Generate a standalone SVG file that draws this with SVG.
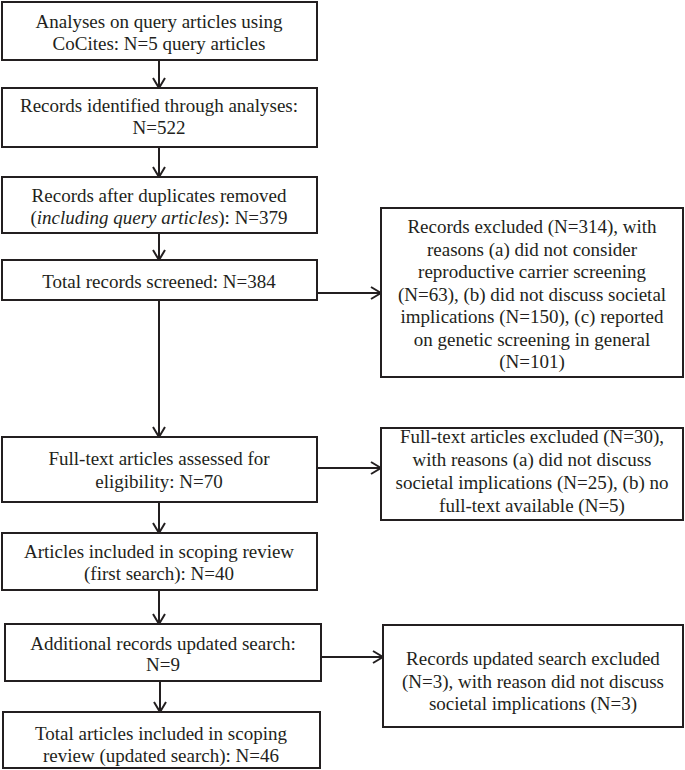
<svg xmlns="http://www.w3.org/2000/svg" width="685" height="770" viewBox="0 0 685 770">
<defs>
<marker id="ah" markerWidth="12" markerHeight="14" refX="11" refY="7" orient="auto" markerUnits="userSpaceOnUse">
<path d="M1,1 L11,7 L1,13" fill="none" stroke="#231f20" stroke-width="2"/>
</marker>
</defs>
<rect width="685" height="770" fill="#fff"/>
<g id="connectors" fill="none" stroke="#231f20" stroke-width="2">
<line x1="159" y1="61" x2="159" y2="88" marker-end="url(#ah)"/>
<line x1="159" y1="147" x2="159" y2="177" marker-end="url(#ah)"/>
<line x1="159" y1="233" x2="159" y2="260" marker-end="url(#ah)"/>
<line x1="317" y1="293" x2="381" y2="293" marker-end="url(#ah)"/>
<line x1="159" y1="300" x2="159" y2="437" marker-end="url(#ah)"/>
<line x1="317" y1="468" x2="381" y2="468" marker-end="url(#ah)"/>
<line x1="159" y1="502" x2="159" y2="533" marker-end="url(#ah)"/>
<line x1="159" y1="590" x2="159" y2="624" marker-end="url(#ah)"/>
<line x1="321" y1="657" x2="383" y2="657" marker-end="url(#ah)"/>
<line x1="160" y1="681" x2="160" y2="712" marker-end="url(#ah)"/>
</g>
<g id="n1"><rect x="2" y="2" width="315" height="58" fill="#fff" stroke="#231f20" stroke-width="2"/>
<text x="159" y="28" font-family="'Liberation Serif'" style="font-family:'Liberation Serif'" font-size="19" fill="#231f20" text-anchor="middle">Analyses on query articles using</text>
<text x="159" y="50" font-family="'Liberation Serif'" style="font-family:'Liberation Serif'" font-size="19" fill="#231f20" text-anchor="middle">CoCites: N=5 query articles</text></g>
<g id="n2"><rect x="2" y="88" width="315" height="59" fill="#fff" stroke="#231f20" stroke-width="2"/>
<text x="159" y="112" font-family="'Liberation Serif'" style="font-family:'Liberation Serif'" font-size="19" fill="#231f20" text-anchor="middle">Records identified through analyses:</text>
<text x="159" y="134" font-family="'Liberation Serif'" style="font-family:'Liberation Serif'" font-size="19" fill="#231f20" text-anchor="middle">N=522</text></g>
<g id="n3"><rect x="2" y="177" width="315" height="56" fill="#fff" stroke="#231f20" stroke-width="2"/>
<text x="159" y="202" font-family="'Liberation Serif'" style="font-family:'Liberation Serif'" font-size="19" fill="#231f20" text-anchor="middle">Records after duplicates removed</text>
<text x="159" y="224" font-family="'Liberation Serif'" style="font-family:'Liberation Serif'" font-size="19" fill="#231f20" text-anchor="middle">(<tspan font-style="italic" style="font-style:italic">including query articles</tspan>): N=379</text></g>
<g id="n4"><rect x="2" y="260" width="315" height="40" fill="#fff" stroke="#231f20" stroke-width="2"/>
<text x="159" y="288" font-family="'Liberation Serif'" style="font-family:'Liberation Serif'" font-size="19" fill="#231f20" text-anchor="middle">Total records screened: N=384</text></g>
<g id="r1"><rect x="381" y="208" width="302" height="169" fill="#fff" stroke="#231f20" stroke-width="2"/>
<text x="532" y="233" font-family="'Liberation Serif'" style="font-family:'Liberation Serif'" font-size="19" fill="#231f20" text-anchor="middle">Records excluded (N=314), with</text>
<text x="532" y="255.5" font-family="'Liberation Serif'" style="font-family:'Liberation Serif'" font-size="19" fill="#231f20" text-anchor="middle">reasons (a) did not consider</text>
<text x="532" y="278" font-family="'Liberation Serif'" style="font-family:'Liberation Serif'" font-size="19" fill="#231f20" text-anchor="middle">reproductive carrier screening</text>
<text x="532" y="300.5" font-family="'Liberation Serif'" style="font-family:'Liberation Serif'" font-size="19" fill="#231f20" text-anchor="middle">(N=63), (b) did not discuss societal</text>
<text x="532" y="323" font-family="'Liberation Serif'" style="font-family:'Liberation Serif'" font-size="19" fill="#231f20" text-anchor="middle">implications (N=150), (c) reported</text>
<text x="532" y="345.5" font-family="'Liberation Serif'" style="font-family:'Liberation Serif'" font-size="19" fill="#231f20" text-anchor="middle">on genetic screening in general</text>
<text x="532" y="368" font-family="'Liberation Serif'" style="font-family:'Liberation Serif'" font-size="19" fill="#231f20" text-anchor="middle">(N=101)</text></g>
<g id="n5"><rect x="2" y="437" width="315" height="65" fill="#fff" stroke="#231f20" stroke-width="2"/>
<text x="159" y="465" font-family="'Liberation Serif'" style="font-family:'Liberation Serif'" font-size="19" fill="#231f20" text-anchor="middle">Full-text articles assessed for</text>
<text x="159" y="488" font-family="'Liberation Serif'" style="font-family:'Liberation Serif'" font-size="19" fill="#231f20" text-anchor="middle">eligibility: N=70</text></g>
<g id="r2"><rect x="381" y="428" width="302" height="92" fill="#fff" stroke="#231f20" stroke-width="2"/>
<text x="532" y="443" font-family="'Liberation Serif'" style="font-family:'Liberation Serif'" font-size="19" fill="#231f20" text-anchor="middle">Full-text articles excluded (N=30),</text>
<text x="532" y="466" font-family="'Liberation Serif'" style="font-family:'Liberation Serif'" font-size="19" fill="#231f20" text-anchor="middle">with reasons (a) did not discuss</text>
<text x="532" y="489" font-family="'Liberation Serif'" style="font-family:'Liberation Serif'" font-size="19" fill="#231f20" text-anchor="middle">societal implications (N=25), (b) no</text>
<text x="532" y="512" font-family="'Liberation Serif'" style="font-family:'Liberation Serif'" font-size="19" fill="#231f20" text-anchor="middle">full-text available (N=5)</text></g>
<g id="n6"><rect x="2" y="533" width="315" height="57" fill="#fff" stroke="#231f20" stroke-width="2"/>
<text x="159" y="558" font-family="'Liberation Serif'" style="font-family:'Liberation Serif'" font-size="19" fill="#231f20" text-anchor="middle">Articles included in scoping review</text>
<text x="159" y="580" font-family="'Liberation Serif'" style="font-family:'Liberation Serif'" font-size="19" fill="#231f20" text-anchor="middle">(first search): N=40</text></g>
<g id="n7"><rect x="5" y="624" width="316" height="57" fill="#fff" stroke="#231f20" stroke-width="2"/>
<text x="163" y="650" font-family="'Liberation Serif'" style="font-family:'Liberation Serif'" font-size="19" fill="#231f20" text-anchor="middle">Additional records updated search:</text>
<text x="163" y="671" font-family="'Liberation Serif'" style="font-family:'Liberation Serif'" font-size="19" fill="#231f20" text-anchor="middle">N=9</text></g>
<g id="r3"><rect x="383" y="625" width="300" height="102" fill="#fff" stroke="#231f20" stroke-width="2"/>
<text x="533" y="665" font-family="'Liberation Serif'" style="font-family:'Liberation Serif'" font-size="19" fill="#231f20" text-anchor="middle">Records updated search excluded</text>
<text x="533" y="688" font-family="'Liberation Serif'" style="font-family:'Liberation Serif'" font-size="19" fill="#231f20" text-anchor="middle">(N=3), with reason did not discuss</text>
<text x="533" y="710" font-family="'Liberation Serif'" style="font-family:'Liberation Serif'" font-size="19" fill="#231f20" text-anchor="middle">societal implications (N=3)</text></g>
<g id="n8"><rect x="3" y="712" width="317" height="56" fill="#fff" stroke="#231f20" stroke-width="2"/>
<text x="161" y="740" font-family="'Liberation Serif'" style="font-family:'Liberation Serif'" font-size="19" fill="#231f20" text-anchor="middle">Total articles included in scoping</text>
<text x="161" y="762" font-family="'Liberation Serif'" style="font-family:'Liberation Serif'" font-size="19" fill="#231f20" text-anchor="middle">review (updated search): N=46</text></g>
</svg>
